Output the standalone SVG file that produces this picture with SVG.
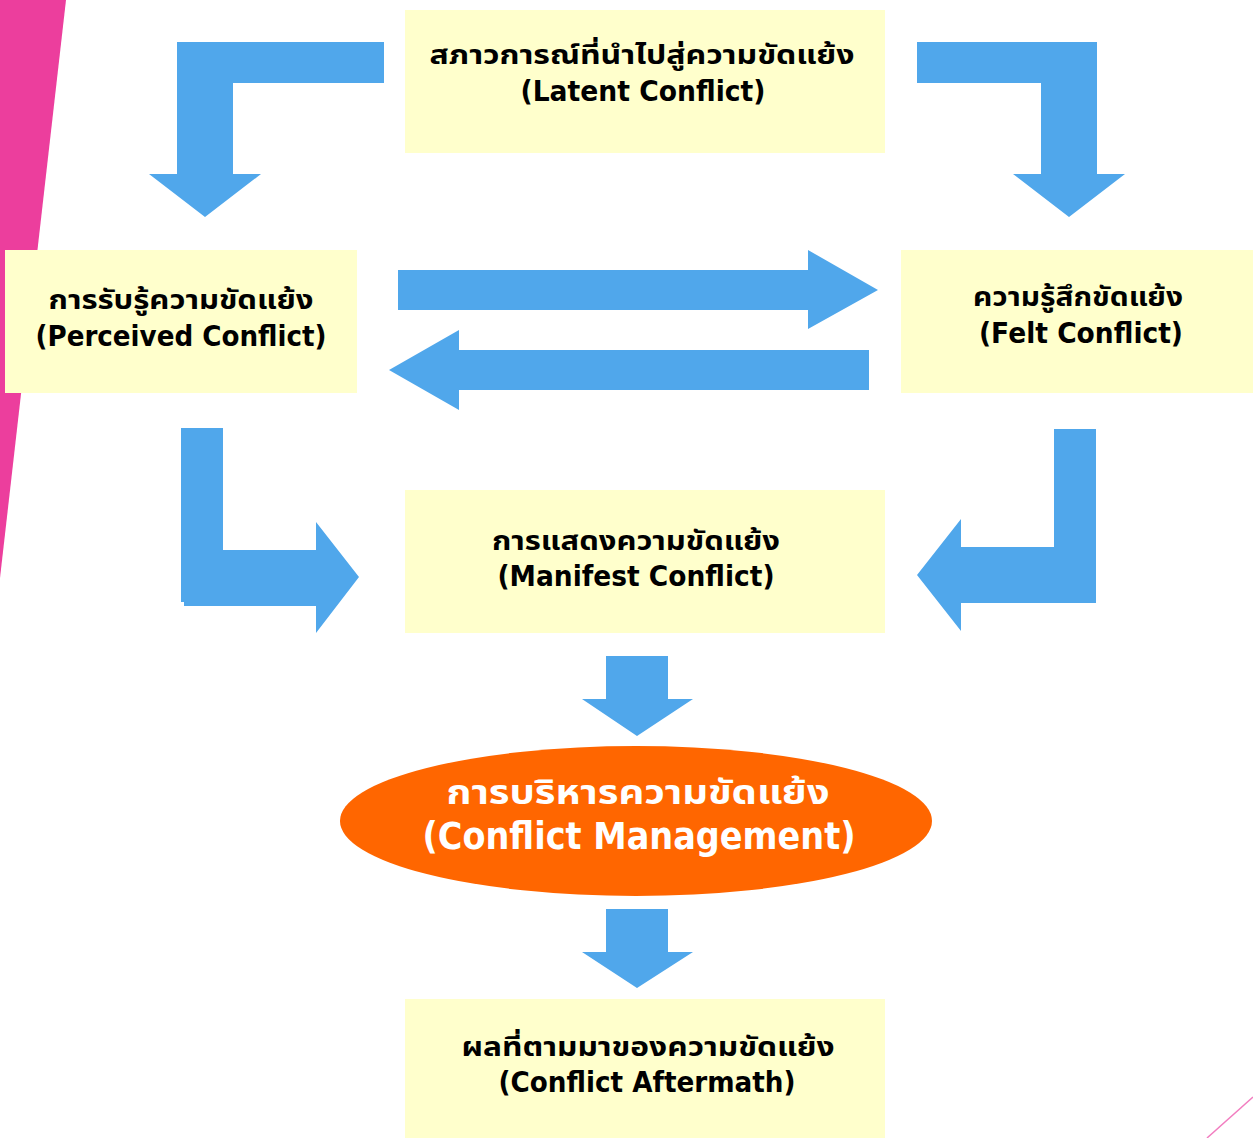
<svg xmlns="http://www.w3.org/2000/svg" width="1253" height="1138" viewBox="0 0 1253 1138">
<style>
.box{fill:#FFFFCC}
.arr{fill:#50A7EB}
.t{font-family:"Noto Sans Thai","Tahoma","DejaVu Sans","Noto Sans",sans-serif;font-weight:bold;font-size:26px;fill:#000;text-anchor:middle}
.e{font-family:"DejaVu Sans","Noto Sans",sans-serif;font-weight:bold;font-size:29px;fill:#000;text-anchor:middle}
.wt{fill:#FFFFFF;font-size:33px}
.we{fill:#FFFFFF;font-size:37px}
</style>
<rect width="1253" height="1138" fill="#FFFFFF"/>
<polygon points="0,0 66,0 0,578" fill="#EC3E9D"/>
<line x1="1253" y1="1097" x2="1207" y2="1138" stroke="#F27EC0" stroke-width="1.5"/>
<g id="connectors">
<polygon class="arr" points="384,42 177,42 177,174 149,174 205,217 261,174 233,174 233,83 384,83"/>
<polygon class="arr" points="917,42 1097,42 1097,174 1125,174 1069,217 1013,174 1041,174 1041,83 917,83"/>
<polygon class="arr" points="398,270 808,270 808,250 878,290 808,329 808,310 398,310"/>
<polygon class="arr" points="869,350 459,350 459,330 389,370 459,410 459,390 869,390"/>
<polygon class="arr" points="181,428 223,428 223,550 316,550 316,522 359,577 316,633 316,606 184,606 184,602 181,602"/>
<polygon class="arr" points="1096,429 1054,429 1054,547 961,547 961,519 917,575 961,631 961,603 1096,603"/>
<polygon class="arr" points="606,656 668,656 668,699 693,699 637,736 582,699 606,699"/>
<polygon class="arr" points="606,909 668,909 668,952 693,952 637,988 582,952 606,952"/>
</g>
<g id="latent">
<rect class="box" x="405" y="10" width="480" height="143"/>
<text class="t" x="642" y="64" textLength="425" lengthAdjust="spacingAndGlyphs">สภาวการณ์ที่นำไปสู่ความขัดแย้ง</text>
<text class="e" x="643" y="101" textLength="245" lengthAdjust="spacingAndGlyphs">(Latent Conflict)</text>
</g>
<g id="perceived">
<rect class="box" x="5" y="250" width="352" height="143"/>
<text class="t" x="181" y="309" textLength="265" lengthAdjust="spacingAndGlyphs">การรับรู้ความขัดแย้ง</text>
<text class="e" x="181" y="346" textLength="291" lengthAdjust="spacingAndGlyphs">(Perceived Conflict)</text>
</g>
<g id="felt">
<rect class="box" x="901" y="250" width="352" height="143"/>
<text class="t" x="1078" y="306" textLength="210" lengthAdjust="spacingAndGlyphs">ความรู้สึกขัดแย้ง</text>
<text class="e" x="1081" y="343" textLength="204" lengthAdjust="spacingAndGlyphs">(Felt Conflict)</text>
</g>
<g id="manifest">
<rect class="box" x="405" y="490" width="480" height="143"/>
<text class="t" x="636" y="550" textLength="288" lengthAdjust="spacingAndGlyphs">การแสดงความขัดแย้ง</text>
<text class="e" x="636" y="586" textLength="277" lengthAdjust="spacingAndGlyphs">(Manifest Conflict)</text>
</g>
<g id="management">
<ellipse cx="636" cy="821" rx="296" ry="75" fill="#FF6600"/>
<text class="t wt" x="638" y="804" textLength="383" lengthAdjust="spacingAndGlyphs">การบริหารความขัดแย้ง</text>
<text class="e we" x="639" y="849" textLength="433" lengthAdjust="spacingAndGlyphs">(Conflict Management)</text>
</g>
<g id="aftermath">
<rect class="box" x="405" y="999" width="480" height="139"/>
<text class="t" x="648" y="1056" textLength="373" lengthAdjust="spacingAndGlyphs">ผลที่ตามมาของความขัดแย้ง</text>
<text class="e" x="647" y="1092" textLength="297" lengthAdjust="spacingAndGlyphs">(Conflict Aftermath)</text>
</g>
</svg>
